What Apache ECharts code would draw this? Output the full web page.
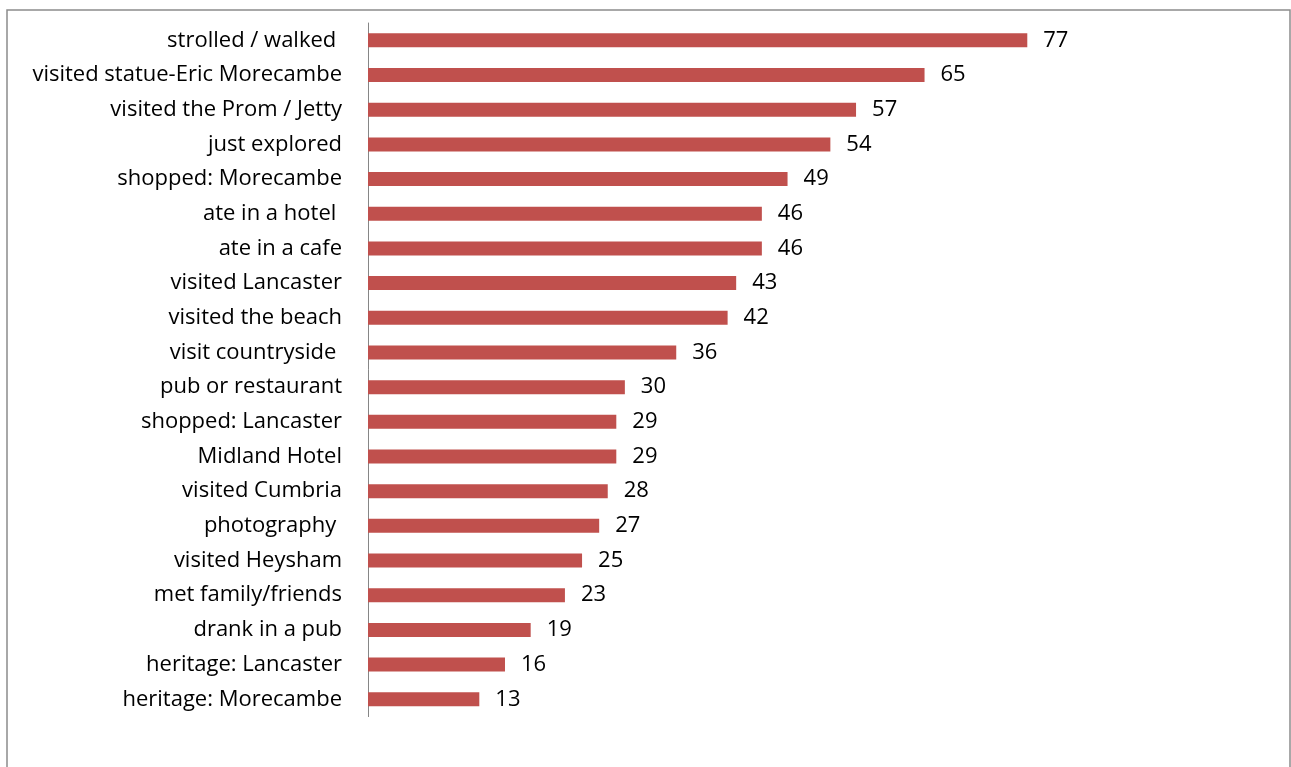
<!DOCTYPE html>
<html>
<head>
<meta charset="utf-8">
<script src="https://cdn.jsdelivr.net/npm/echarts@6/dist/echarts.min.js"></script>
<style>
  html, body { margin: 0; padding: 0; background: #fff; }
  #chart { width: 1291px; height: 767px; }
</style>
</head>
<body>
<div id="chart"></div>
<script>
// Activities, listed bottom-to-top as the category axis draws them
const categories = [
  'heritage: Morecambe',
  'heritage: Lancaster',
  'drank in a pub',
  'met family/friends',
  'visited Heysham',
  'photography ',
  'visited Cumbria',
  'Midland Hotel',
  'shopped: Lancaster',
  'pub or restaurant',
  'visit countryside ',
  'visited the beach',
  'visited Lancaster',
  'ate in a cafe',
  'ate in a hotel ',
  'shopped: Morecambe',
  'just explored',
  'visited the Prom / Jetty',
  'visited statue-Eric Morecambe',
  'strolled / walked '
];
const counts = [13, 16, 19, 23, 25, 27, 28, 29, 29, 30, 36, 42, 43, 46, 46, 49, 54, 57, 65, 77];

const fontFamily = '"Open Sans", "Liberation Sans", sans-serif';

const chart = echarts.init(document.getElementById('chart'), null, { renderer: 'canvas' });
chart.setOption({
  animation: false,
  backgroundColor: '#ffffff',
  graphic: [{
    type: 'rect',
    shape: { x: 7, y: 10, width: 1283, height: 800 },
    style: { fill: 'none', stroke: '#8c8c8c', lineWidth: 1.5 },
    silent: true
  }],
  grid: { left: 368, top: 23, width: 770.6, height: 693.6, containLabel: false },
  xAxis: {
    type: 'value',
    min: 0,
    max: 90,
    show: false
  },
  yAxis: {
    type: 'category',
    data: categories,
    axisLine: { show: true, lineStyle: { color: '#868686', width: 1 } },
    axisTick: { show: false },
    axisLabel: {
      color: '#000',
      fontSize: 22,
      fontFamily: fontFamily,
      margin: 26
    },
    splitLine: { show: false }
  },
  series: [{
    type: 'bar',
    data: counts,
    barWidth: 14,
    itemStyle: { color: '#C0504D' },
    label: {
      show: true,
      position: 'right',
      distance: 16,
      color: '#000',
      fontSize: 22,
      fontFamily: fontFamily
    }
  }]
});
</script>
</body>
</html>
